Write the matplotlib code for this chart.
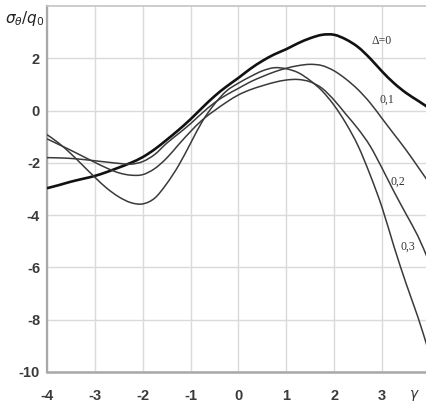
import matplotlib
matplotlib.use("Agg")
import matplotlib.pyplot as plt
from matplotlib.path import Path
from matplotlib.patches import PathPatch

# Hoop stress sigma_theta/q0 versus gamma for several Delta values
gamma = [-4.0, -3.75, -3.5, -3.25, -3.0, -2.75, -2.5, -2.25, -2.0, -1.75, -1.5,
         -1.25, -1.0, -0.75, -0.5, -0.25, 0.0, 0.25, 0.5, 0.75, 1.0, 1.25, 1.5,
         1.75, 2.0, 2.25, 2.5, 2.75, 3.0, 3.25, 3.5, 3.75, 3.94]

stress_d00 = [-2.97, -2.85, -2.72, -2.61, -2.50, -2.35, -2.18, -2.0, -1.78, -1.48, -1.12,
              -0.74, -0.33, 0.12, 0.55, 0.92, 1.25, 1.60, 1.90, 2.15, 2.35, 2.58, 2.77,
              2.90, 2.90, 2.72, 2.43, 2.00, 1.50, 1.05, 0.68, 0.38, 0.15]

stress_d01 = [-1.80, -1.81, -1.83, -1.87, -1.92, -1.97, -2.02, -2.05, -1.95, -1.68, -1.25,
              -0.88, -0.50, -0.08, 0.30, 0.60, 0.85, 1.10, 1.30, 1.48, 1.62, 1.72, 1.77,
              1.72, 1.52, 1.20, 0.80, 0.30, -0.30, -0.90, -1.50, -2.15, -2.65]

stress_d02 = [-1.08, -1.30, -1.52, -1.75, -1.98, -2.20, -2.38, -2.47, -2.45, -2.22, -1.82,
              -1.30, -0.80, -0.35, 0.00, 0.32, 0.60, 0.80, 0.95, 1.08, 1.17, 1.19, 1.10,
              0.85, 0.40, -0.15, -0.70, -1.35, -2.20, -3.10, -3.95, -4.80, -5.60]

stress_d03 = [-0.92, -1.25, -1.65, -2.10, -2.55, -2.97, -3.30, -3.52, -3.57, -3.35, -2.80,
              -2.10, -1.25, -0.40, 0.25, 0.75, 1.05, 1.30, 1.52, 1.64, 1.60, 1.45, 1.15,
              0.75, 0.20, -0.50, -1.35, -2.45, -3.70, -5.20, -6.60, -7.90, -9.00]

curve_labels = ["\u0394=0", "0,1", "0,2", "0,3"]
label_x = [3.0, 3.1, 3.33, 3.54]
label_y = [2.65, 0.42, -2.73, -5.2]

x_ticks = [-4, -3, -2, -1, 0, 1, 2, 3]
y_ticks = [2, 0, -2, -4, -6, -8, -10]


def smooth_path(xs, ys):
    """Smoothed polyline through the given points (cubic Bezier segments)."""
    pts = list(zip(xs, ys))
    n = len(pts)
    verts = [pts[0]]
    codes = [Path.MOVETO]
    for i in range(n - 1):
        p0 = pts[i - 1] if i > 0 else pts[i]
        p1 = pts[i]
        p2 = pts[i + 1]
        p3 = pts[i + 2] if i + 2 < n else pts[i + 1]
        c1 = (p1[0] + (p2[0] - p0[0]) / 6.0, p1[1] + (p2[1] - p0[1]) / 6.0)
        c2 = (p2[0] - (p3[0] - p1[0]) / 6.0, p2[1] - (p3[1] - p1[1]) / 6.0)
        verts += [c1, c2, p2]
        codes += [Path.CURVE4] * 3
    return Path(verts, codes)


fig = plt.figure(figsize=(4.27, 4.03), dpi=100)
ax = fig.add_axes([0.110, 0.077, 0.890, 0.908])

series = [(stress_d00, "#111111", 1.9), (stress_d01, "#3a3a3a", 1.1),
          (stress_d02, "#3a3a3a", 1.1), (stress_d03, "#3a3a3a", 1.1)]
for s, col, lw in series:
    ax.add_patch(PathPatch(smooth_path(gamma, s), facecolor="none",
                           edgecolor=col, lw=lw, zorder=3))

for txt, lx, ly in zip(curve_labels, label_x, label_y):
    ax.text(lx, ly, txt, fontsize=8.5, family="Liberation Serif",
            color="#333333", ha="center", va="center")

ax.set_xlim(-4, 3.94)
ax.set_ylim(-10, 4)
ax.set_xticks(x_ticks)
ax.set_yticks(y_ticks)
ax.set_xticklabels([str(t) for t in x_ticks])
ax.set_yticklabels([str(t) for t in y_ticks])
ax.tick_params(axis="both", length=0, labelsize=10.5, labelcolor="#3a3a3a")
ax.tick_params(axis="x", pad=12)
ax.tick_params(axis="y", pad=5)
for lab in ax.get_xticklabels() + ax.get_yticklabels():
    lab.set_family("Liberation Sans")
    lab.set_fontweight("bold")

ax.grid(True, color="#dadada", lw=1.0)
ax.set_axisbelow(True)

ax.spines["right"].set_visible(False)
ax.spines["left"].set_color("#a8a8a8")
ax.spines["left"].set_linewidth(1.6)
ax.spines["bottom"].set_color("#a8a8a8")
ax.spines["bottom"].set_linewidth(1.8)
ax.spines["top"].set_color("#c4c4c4")
ax.spines["top"].set_linewidth(1.2)

ax.text(3.67, -10.9, r"$\gamma$", fontsize=10, color="#333333",
        ha="center", va="center", clip_on=False)
fig.text(0.058, 0.955, r"$\sigma_\theta/q_0$", fontsize=11, color="#222222",
         ha="center", va="center")

fig.savefig("out.png", dpi=100)
